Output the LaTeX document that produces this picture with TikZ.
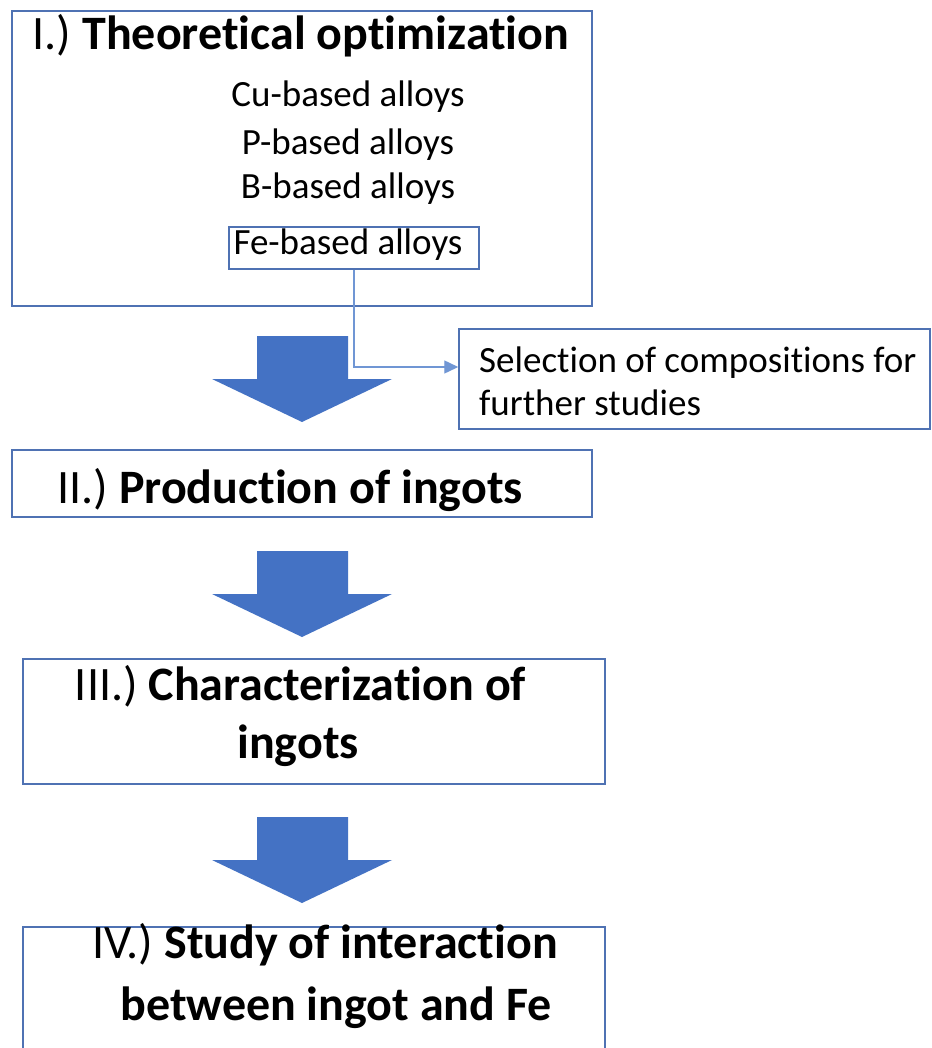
\documentclass[tikz,border=0pt]{standalone}
\usepackage{fontspec}
\setmainfont{Carlito}[Ligatures={NoCommon}, RawFeature={-calt;-clig;-dlig}]
\usetikzlibrary{arrows.meta}
\definecolor{boxline}{HTML}{4F72B3}
\definecolor{connline}{HTML}{7096D4}
\definecolor{arrowfill}{HTML}{4472C4}
\newcommand\ttlfont{\fontsize{48}{58}\selectfont}
\newcommand\bodyfont{\fontsize{37}{44}\selectfont}
\newcommand\nl{\kern0pt }
\newcommand\BlockArrowDown[1]{%
  \fill[arrowfill] (257,#1) -- (348,#1) -- (348,#1+43) -- (392,#1+43)
    -- (302,#1+86) -- (212,#1+43) -- (257,#1+43) -- cycle;}
\tikzset{
  boxnode/.style={draw=boxline, line width=1.5pt, rectangle, inner sep=0pt},
  ttl/.style={inner sep=0pt, anchor=base, font=\ttlfont},
  bodytext/.style={inner sep=0pt, anchor=base, font=\bodyfont},
  conn/.style={draw=connline, line width=1.4pt, -{Triangle[length=14pt,width=13pt]}},
}
\begin{document}
\begin{tikzpicture}[x=1pt,y=-1pt]
\useasboundingbox (0,0) rectangle (931,1048);
\clip (0,0) rectangle (931,1048);
\fill[white] (0,0) rectangle (931,1048);

% Box I
\node[boxnode, minimum width=580pt, minimum height=295pt] (b1) at (302,158.5) {};
\node[ttl] (t1) at (301,50) {{\mdseries I.)} \textbf{Theoretical opt\nl imizat\nl ion}};
\node[bodytext] (cu) at (348,107) {Cu-based alloys};
\node[bodytext] (p) at (348,155) {P-based alloys};
\node[bodytext] (b) at (348,199) {B-based alloys};
\node[boxnode, minimum width=250pt, minimum height=42pt] (fe) at (354,248) {};
\node[bodytext] (fetext) at (348,255) {Fe-based alloys};

% Selection box
\node[boxnode, minimum width=471pt, minimum height=100pt] (sel) at (694.5,379) {};
\node[bodytext, anchor=base west] (sel1) at (479,372) {Selec\nl t\nl ion\ of composit\nl ions for};
\node[bodytext, anchor=base west] (sel2) at (479,415) {further studies};

\coordinate (bend) at (354,367);
\draw[conn] (fe.south) -- (bend) -- (bend -| sel.west);

% Big arrow 1
\BlockArrowDown{336}

% Box II
\node[boxnode, minimum width=580pt, minimum height=67pt] (b2) at (302,483.5) {};
\node[ttl] (t2) at (290,503) {{\mdseries II.)} \textbf{Product\nl ion of ingots}};

% Big arrow 2
\BlockArrowDown{551}

% Box III
\node[boxnode, minimum width=582pt, minimum height=125pt] (b3) at (314,721.5) {};
\node[ttl] (t3a) at (300.5,700) {{\mdseries III.)} \textbf{Characterizat\nl ion of}};
\node[ttl] (t3b) at (298,758) {\textbf{ingots}};

% Big arrow 3
\BlockArrowDown{817}

% Box IV
\node[boxnode, minimum width=582pt, minimum height=143pt] (b4) at (314,998.5) {};
\node[ttl] (t4a) at (325,958) {{\mdseries IV.)} \textbf{Study of interact\nl ion}};
\node[ttl] (t4b) at (336,1020) {\textbf{between ingot and Fe}};
\end{tikzpicture}
\end{document}
